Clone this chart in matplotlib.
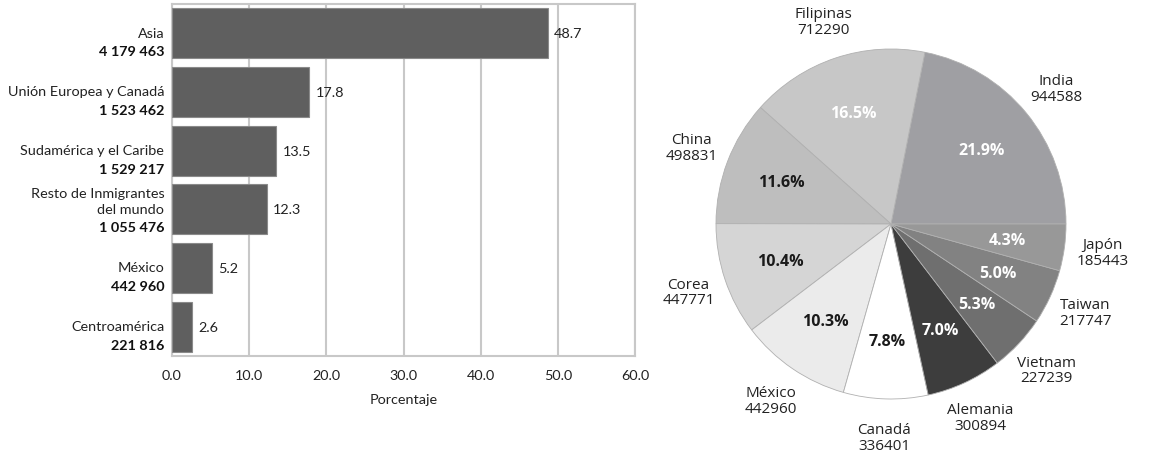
import matplotlib
matplotlib.use("Agg")
import matplotlib.pyplot as plt

# ---- Bar chart data ----
regions = ["Asia", "Unión Europea y Canadá", "Sudamérica y el Caribe",
           "Resto de Inmigrantes\ndel mundo", "México", "Centroamérica"]
region_counts = ["4 179 463", "1 523 462", "1 529 217", "1 055 476", "442 960", "221 816"]
region_pct = [48.7, 17.8, 13.5, 12.3, 5.2, 2.6]
x_ticks = [0, 10, 20, 30, 40, 50, 60]

# ---- Pie chart data ----
countries = ["India", "Filipinas", "China", "Corea", "México", "Canadá",
             "Alemania", "Vietnam", "Taiwan", "Japón"]
country_counts = [944588, 712290, 498831, 447771, 442960, 336401,
                  300894, 227239, 217747, 185443]
pie_colors = ["#9f9fa3", "#c7c7c7", "#bebebe", "#d5d5d5", "#ebebeb", "#ffffff",
              "#3d3d3d", "#6f6f6f", "#828282", "#989898"]
pct_colors = ["white", "white", "#1a1a1a", "#1a1a1a", "#1a1a1a", "#1a1a1a",
              "white", "white", "white", "white"]

BAR_FONT = ["Lato", "DejaVu Sans"]
PIE_FONT = ["Open Sans", "DejaVu Sans"]
BFS = 10.4

W, H = 1152, 456
fig = plt.figure(figsize=(W / 100, H / 100), dpi=100)

# ---------------- Bar chart ----------------
ax = fig.add_axes([172 / W, 1 - 357 / H, (635 - 172) / W, (357 - 5) / H])
ypos = list(range(len(regions)))
ax.barh(ypos, region_pct, height=0.85, color="#5f5f5f", edgecolor="#8a8a8a",
        linewidth=0.8, zorder=3)
ax.set_xlim(0, 60)
ax.set_ylim(5.5, -0.5)
ax.set_xticks(x_ticks)
ax.set_xticklabels([f"{v:.1f}" for v in x_ticks], family=BAR_FONT, fontsize=BFS,
                   color="#222222")
ax.set_yticks([])
ax.tick_params(axis="x", length=0, pad=9)
ax.grid(axis="x", color="#c8c8c8", linewidth=1.5, zorder=0)
for s in ax.spines.values():
    s.set_color("#c8c8c8")
    s.set_linewidth(1.5)
ax.set_xlabel("Porcentaje", family=BAR_FONT, fontsize=BFS, color="#222222",
              labelpad=9)

for i, (name, cnt, v) in enumerate(zip(regions, region_counts, region_pct)):
    lines = name.split("\n")
    for k, line in enumerate(reversed(lines)):
        ax.annotate(line, xy=(0, i), xycoords=("axes fraction", "data"),
                    xytext=(-5.5, 0.5 + 11 * k), textcoords="offset points",
                    ha="right", va="center", family=BAR_FONT, fontsize=BFS,
                    color="#222222")
    ax.annotate(cnt, xy=(0, i), xycoords=("axes fraction", "data"),
                xytext=(-5.5, -13), textcoords="offset points",
                ha="right", va="center", family=BAR_FONT, fontsize=BFS,
                fontweight="bold", color="#111111")
    ax.annotate(f"{v:.1f}", xy=(v, i), xycoords="data",
                xytext=(4.5, 0), textcoords="offset points",
                ha="left", va="center", family=BAR_FONT, fontsize=BFS,
                color="#222222")

# ---------------- Pie chart ----------------
R = 175
cx, cy = 891, 225
lim = 1.3
side = 2 * lim * R
pax = fig.add_axes([(cx - side / 2) / W, (H - cy - side / 2) / H, side / W, side / H])
labels = [f"{c}\n{n}" for c, n in zip(countries, country_counts)]
wedges, texts, autotexts = pax.pie(
    country_counts, labels=labels, colors=pie_colors, startangle=0,
    counterclock=True, autopct="%1.1f%%", pctdistance=0.67, labeldistance=1.22,
    wedgeprops=dict(edgecolor="#b0b0b0", linewidth=0.6),
    textprops=dict(family=PIE_FONT, fontsize=11, color="#222222"))
for t in texts:
    t.set_ha("center")
    t.set_linespacing(1.08)
for t, c in zip(autotexts, pct_colors):
    t.set_color(c)
    t.set_fontweight("bold")
    t.set_fontsize(11.5)
pax.set_xlim(-lim, lim)
pax.set_ylim(-lim, lim)
pax.set_aspect("equal")
pax.axis("off")

fig.savefig("out.png", dpi=100)
